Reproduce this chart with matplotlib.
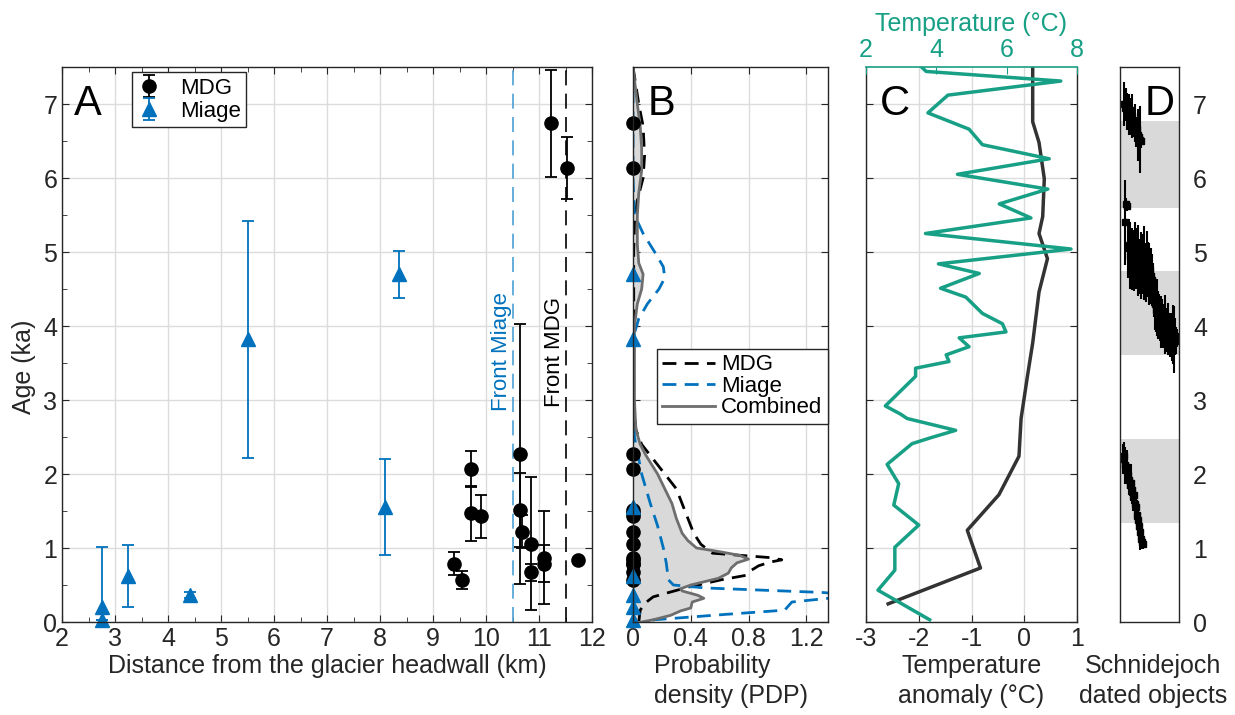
import matplotlib
matplotlib.use('Agg')
import matplotlib.pyplot as plt

plt.rcParams['font.family'] = ['Liberation Sans', 'DejaVu Sans']
plt.rcParams['axes.unicode_minus'] = False
plt.rcParams['font.size'] = 18

DARK = '#262626'
BLUE = '#0072BD'
TEAL = '#17a085'
GRID = '#dcdcdc'
FILL = '#d9d9d9'

# --- panel A: ages vs distance ---
mdg_dist = [9.40, 9.55, 9.72, 9.72, 9.90, 10.65, 10.65, 10.67, 10.85, 10.85, 11.10, 11.10, 11.22, 11.52, 11.74]
mdg_age = [0.79, 0.57, 2.07, 1.47, 1.43, 2.27, 1.51, 1.22, 1.06, 0.67, 0.87, 0.79, 6.74, 6.14, 0.84]
mdg_err = [0.15, 0.12, 0.24, 0.37, 0.29, 1.76, 0.50, 0.22, 0.90, 0.12, 0.63, 0.25, 0.72, 0.42, 0.0]

miage_dist = [2.75, 2.75, 3.25, 4.42, 5.50, 8.10, 8.35]
miage_age = [0.20, 0.03, 0.62, 0.37, 3.82, 1.55, 4.70]
miage_err = [0.82, 0.0, 0.42, 0.04, 1.60, 0.65, 0.32]

front_miage = 10.5
front_mdg = 11.5

# --- panel B: probability density plots ---
comb_age = [7.5, 7.0, 6.7, 6.4, 6.1, 5.8, 5.5, 5.1, 4.85, 4.7, 4.5, 4.3, 4.0, 3.5, 3.0, 2.6, 2.4, 2.25,
            2.0, 1.8, 1.6, 1.4, 1.2, 1.1, 1.0, 0.95, 0.9, 0.85, 0.8, 0.73, 0.66, 0.59, 0.5, 0.45,
            0.42, 0.36, 0.32, 0.27, 0.19, 0.15, 0.09, 0.03, 0.0]
comb_pdp = [0.0, 0.03, 0.05, 0.06, 0.06, 0.04, 0.03, 0.03, 0.04, 0.07, 0.06, 0.03, 0.01, 0.01, 0.01, 0.02,
            0.05, 0.09, 0.17, 0.22, 0.27, 0.30, 0.34, 0.38, 0.44, 0.60, 0.74, 0.80, 0.72, 0.68, 0.66,
            0.59, 0.40, 0.33, 0.34, 0.45, 0.49, 0.41, 0.40, 0.33, 0.26, 0.14, 0.06]

mdg_pdp_age = [7.5, 7.0, 6.7, 6.3, 6.0, 5.7, 5.4, 5.0, 4.0, 3.0, 2.6, 2.4, 2.2, 2.0, 1.8, 1.5, 1.2,
               1.05, 0.93, 0.9, 0.87, 0.84, 0.81, 0.76, 0.7, 0.63, 0.57, 0.5, 0.47, 0.4, 0.34,
               0.25, 0.16, 0.0]
mdg_pdp = [0.0, 0.04, 0.07, 0.08, 0.07, 0.03, 0.01, 0.005, 0.005, 0.005, 0.02, 0.06, 0.14, 0.22,
           0.30, 0.36, 0.42, 0.47, 0.55, 0.75, 0.95, 1.03, 0.95, 0.87, 0.82, 0.78, 0.61, 0.45,
           0.38, 0.25, 0.14, 0.08, 0.05, 0.04]

miage_pdp_age = [7.5, 7.0, 6.0, 5.5, 5.25, 5.0, 4.8, 4.65, 4.5, 4.3, 4.1, 3.9, 3.5, 3.0, 2.5, 2.2,
                 2.0, 1.6, 1.3, 1.0, 0.8, 0.65, 0.57, 0.5, 0.46, 0.43, 0.40, 0.36, 0.32, 0.27,
                 0.16, 0.1, 0.03, 0.0]
miage_pdp = [0.0, 0.0, 0.0, 0.01, 0.07, 0.15, 0.21, 0.22, 0.18, 0.10, 0.04, 0.01, 0.005, 0.005,
             0.01, 0.04, 0.06, 0.12, 0.17, 0.21, 0.23, 0.24, 0.245, 0.28, 0.5, 0.9, 1.3, 1.6,
             1.35, 1.1, 1.05, 0.62, 0.15, 0.08]

# --- panel C: temperature records ---
anom_age = [7.5, 6.76, 6.48, 5.99, 5.48, 5.25, 4.91, 4.46, 3.77, 3.32, 2.75, 2.24, 1.72, 1.24, 0.73, 0.245]
anom = [0.16, 0.16, 0.28, 0.38, 0.35, 0.28, 0.44, 0.28, 0.16, 0.06, -0.06, -0.10, -0.48, -1.08, -0.83, -2.58]

temp_age = [7.5, 7.44, 7.31, 7.12, 6.88, 6.66, 6.45, 6.26, 6.05, 5.85, 5.65, 5.46, 5.25, 5.04, 4.84,
            4.71, 4.51, 4.39, 4.17, 4.03, 3.92, 3.84, 3.72, 3.61, 3.52, 3.43, 3.32, 2.92, 2.81, 2.75,
            2.59, 2.49, 2.41, 2.13, 1.87, 1.58, 1.31, 1.01, 0.70, 0.43, 0.30, 0.03]
temp = [3.58, 3.71, 7.54, 4.33, 3.76, 4.93, 5.31, 7.21, 4.60, 7.17, 5.79, 6.69, 3.69, 7.83, 4.06,
        5.22, 4.12, 4.84, 5.31, 5.88, 5.98, 4.65, 4.93, 4.28, 4.36, 3.41, 3.41, 2.55, 2.98, 3.17,
        4.55, 3.84, 3.31, 2.60, 2.93, 2.79, 3.50, 2.82, 2.82, 2.34, 2.82, 3.81]

# --- panel D: Schnidejoch dated objects (object number, age, half range) ---
d1_x = [4, 5, 6, 7, 8, 9, 10, 11, 12, 13, 14, 15, 16, 17, 18, 19, 20, 21]
d1_age = [7.00, 6.95, 7.02, 6.90, 6.97, 6.86, 6.92, 6.80, 6.84, 6.76, 6.70, 6.74, 6.62, 6.66, 6.58, 6.55, 6.52, 6.50]
d1_err = [0.30, 0.18, 0.20, 0.25, 0.15, 0.28, 0.16, 0.22, 0.30, 0.18, 0.15, 0.26, 0.20, 0.16, 0.35, 0.20, 0.45, 0.10]

d2_x = [5, 6, 7, 8, 9, 10, 11, 12, 13, 14, 15, 16, 17, 18, 19, 20, 21, 22, 23, 24, 25, 26, 27,
        28, 29, 30, 31, 32, 33, 34, 35, 36, 37, 38, 39, 40, 41, 42, 43, 44, 45, 46, 47, 48, 49,
        50, 51, 52, 53, 54, 55, 56, 57]
d2_age = [5.40, 5.65, 5.62, 5.05, 5.10, 4.95, 5.00, 4.90, 5.05, 4.85, 4.95, 4.80, 4.92, 4.88, 4.78,
          4.90, 4.82, 4.86, 4.75, 4.85, 4.80, 4.72, 4.84, 4.78, 4.70, 4.76, 4.68, 4.62, 4.55, 4.40,
          4.30, 4.22, 4.25, 4.15, 4.18, 4.10, 4.05, 4.08, 4.00, 3.98, 4.02, 3.95, 3.92, 3.96, 3.90,
          3.88, 3.92, 3.85, 3.88, 3.82, 3.86, 3.80, 3.84]
d2_err = [0.57, 0.08, 0.06, 0.40, 0.35, 0.45, 0.30, 0.42, 0.25, 0.38, 0.45, 0.30, 0.40, 0.48, 0.35,
          0.28, 0.45, 0.38, 0.32, 0.50, 0.30, 0.40, 0.45, 0.35, 0.42, 0.30, 0.38, 0.35, 0.30, 0.28,
          0.35, 0.30, 0.38, 0.32, 0.25, 0.30, 0.35, 0.28, 0.30, 0.25, 0.40, 0.30, 0.25, 0.35, 0.28,
          0.30, 0.22, 0.32, 0.40, 0.45, 0.25, 0.18, 0.12]

d3_x = [3, 4, 5, 6, 7, 8, 9, 10, 11, 12, 13, 14, 15, 16, 17, 18, 19, 20, 21, 22, 23]
d3_age = [2.20, 2.25, 2.12, 2.05, 2.10, 1.98, 1.92, 1.85, 1.88, 1.78, 1.70, 1.72, 1.60, 1.55, 1.45,
          1.38, 1.30, 1.22, 1.12, 1.08, 1.05]
d3_err = [0.20, 0.18, 0.25, 0.15, 0.22, 0.18, 0.20, 0.15, 0.25, 0.18, 0.20, 0.15, 0.22, 0.18, 0.20,
          0.15, 0.18, 0.25, 0.12, 0.10, 0.06]

bands = [(1.34, 2.47), (3.61, 4.75), (5.60, 6.77)]

W, H = 1235, 715
fig = plt.figure(figsize=(W / 100, H / 100), dpi=100)


def box(x0, x1, y0=67, y1=622):
    return [x0 / W, 1 - y1 / H, (x1 - x0) / W, (y1 - y0) / H]


def style(ax):
    for s in ax.spines.values():
        s.set_color(DARK)
        s.set_linewidth(1)
    ax.tick_params(which='both', direction='in', top=True, right=True, colors=DARK,
                   labelsize=18, length=5)
    ax.tick_params(which='minor', length=3.5)


axA = fig.add_axes(box(62, 592))
axB = fig.add_axes(box(633, 828))
axC = fig.add_axes(box(866, 1077))
axD = fig.add_axes(box(1120, 1179))

LABEL_Y = -0.058

# A
style(axA)
axA.set_axisbelow(True)
axA.grid(True, color=GRID, lw=1)
axA.axvline(front_miage, color='#4b9fd5', lw=1.2, dashes=(9, 5))
axA.axvline(front_mdg, color='k', lw=1.2, dashes=(9, 5))
axA.text(front_miage, 2.85, 'Front Miage', rotation=90, ha='right', va='bottom',
         color=BLUE, fontsize=16)
axA.text(front_mdg, 2.9, 'Front MDG', rotation=90, ha='right', va='bottom',
         color='k', fontsize=16)
eb1 = axA.errorbar(mdg_dist, mdg_age, yerr=mdg_err, fmt='o', color='k', ms=9.5,
                   capsize=4, elinewidth=1.3, capthick=1.3, label='MDG')
eb2 = axA.errorbar(miage_dist, miage_age, yerr=miage_err, fmt='^', color=BLUE, ms=9.5,
                   capsize=4, elinewidth=1.3, capthick=1.3, label='Miage')
eb1[0].set_clip_on(False)
eb2[0].set_clip_on(False)
axA.set_xlim(2, 12)
axA.set_ylim(0, 7.5)
axA.set_xticks(range(2, 13))
axA.set_yticks(range(0, 8))
axA.set_xticks([x + 0.5 for x in range(2, 12)], minor=True)
axA.set_yticks([y + 0.5 for y in range(0, 7)], minor=True)
axA.set_xlabel('Distance from the glacier headwall (km)', fontsize=18, color=DARK)
axA.xaxis.set_label_coords(0.5, LABEL_Y)
axA.set_ylabel('Age (ka)', fontsize=18, color=DARK)
axA.yaxis.set_label_coords(-0.05, 0.46)
leg = axA.legend(loc='upper left', bbox_to_anchor=(0.132, 0.991), fontsize=16,
                 fancybox=False, edgecolor=DARK, borderpad=0.25, labelspacing=0.1,
                 handletextpad=0.9, handlelength=1.0, borderaxespad=0, framealpha=1)
leg.get_frame().set_linewidth(1)
axA.text(0.022, 0.97, 'A', transform=axA.transAxes, fontsize=30, va='top', color='k')

# B
style(axB)
axB.set_axisbelow(True)
axB.grid(True, color=GRID, lw=1)
axB.fill_betweenx(comb_age, 0, comb_pdp, color=FILL, lw=0)
axB.plot(mdg_pdp, mdg_pdp_age, color='k', lw=2, dashes=(5, 3), label='MDG')
axB.plot(miage_pdp, miage_pdp_age, color=BLUE, lw=2, dashes=(5, 3), label='Miage')
axB.plot(comb_pdp, comb_age, color='#6e6e6e', lw=2, label='Combined')
axB.plot([0] * len(mdg_age), mdg_age, 'o', color='k', ms=9.5, clip_on=False)
axB.plot([0] * len(miage_age), miage_age, '^', color=BLUE, ms=9.5, clip_on=False)
axB.set_xlim(0, 1.35)
axB.set_ylim(0, 7.5)
axB.set_xticks([0, 0.4, 0.8, 1.2])
axB.set_xticklabels(['0', '0.4', '0.8', '1.2'])
axB.set_yticks(range(0, 8))
axB.set_yticklabels([])
axB.set_xlabel('Probability\ndensity (PDP)', fontsize=18, color=DARK,
               multialignment='left', linespacing=1.3)
axB.xaxis.set_label_coords(0.5, LABEL_Y)
legB = axB.legend(loc='upper right', bbox_to_anchor=(1.0, 0.492), fontsize=16,
                  fancybox=False, edgecolor=DARK, borderpad=0.25, labelspacing=0.02,
                  handletextpad=0.3, handlelength=2.35, borderaxespad=0, framealpha=1)
legB.get_frame().set_linewidth(1)
axB.text(0.075, 0.97, 'B', transform=axB.transAxes, fontsize=30, va='top', color='k')

# C
style(axC)
axC.set_axisbelow(True)
axC.grid(True, color=GRID, lw=1)
axC.plot(anom, anom_age, color='#333333', lw=2.5)
axC.set_xlim(-3, 1)
axC.set_ylim(0, 7.5)
axC.set_xticks(range(-3, 2))
axC.set_yticks(range(0, 8))
axC.set_yticklabels([])
axC.tick_params(top=False)
axC.spines['top'].set_visible(False)
axC.set_xlabel('Temperature\nanomaly (°C)', fontsize=18, color=DARK, linespacing=1.3)
axC.xaxis.set_label_coords(0.5, LABEL_Y)
axC.text(0.065, 0.97, 'C', transform=axC.transAxes, fontsize=30, va='top', color='k')

twin = axC.twiny()
twin.plot(temp, temp_age, color=TEAL, lw=2.5)
twin.set_xlim(2, 8)
twin.set_xticks([2, 4, 6, 8])
twin.tick_params(axis='x', direction='in', colors=TEAL, labelsize=18, length=5)
for k in ['left', 'right', 'bottom']:
    twin.spines[k].set_visible(False)
twin.spines['top'].set_color(TEAL)
twin.spines['top'].set_linewidth(1.2)
twin.set_xlabel('Temperature (°C)', fontsize=18, color=TEAL)
twin.xaxis.set_label_coords(0.5, 1.065)

# D
for s in axD.spines.values():
    s.set_color(DARK)
    s.set_linewidth(1)
for lo, hi in bands:
    axD.axhspan(lo, hi, color=FILL, lw=0)
for xs, ys, es in [(d1_x, d1_age, d1_err), (d2_x, d2_age, d2_err), (d3_x, d3_age, d3_err)]:
    axD.errorbar(xs, ys, yerr=es, fmt='s', color='k', ms=4, elinewidth=1.5, capsize=0)
axD.set_xlim(0, 59)
axD.set_ylim(0, 7.5)
axD.set_xticks([])
axD.set_yticks(range(0, 8))
axD.yaxis.tick_right()
axD.tick_params(axis='y', length=0, pad=10, labelsize=18, colors=DARK)
axD.set_xlabel('Schnidejoch\ndated objects', fontsize=18, color=DARK, linespacing=1.3)
axD.xaxis.set_label_coords(0.56, LABEL_Y)
axD.text(0.93, 0.97, 'D', transform=axD.transAxes, fontsize=30, va='top', ha='right', color='k')

fig.savefig('out.png', dpi=100)
